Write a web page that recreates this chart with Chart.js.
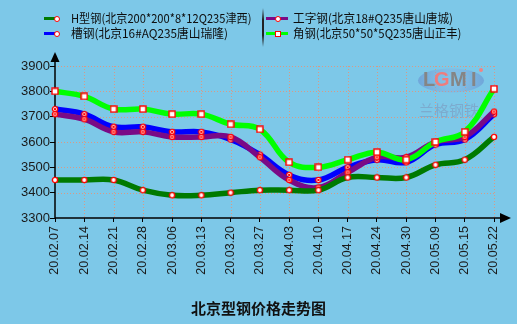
<!DOCTYPE html>
<html>
<head>
<meta charset="utf-8">
<script src="https://cdn.jsdelivr.net/npm/chart.js@4.4.1/dist/chart.umd.min.js"></script>
<style>
  body { margin: 0; background: #7dc8e8; }
  #wrap { position: relative; width: 517px; height: 324px; background: #7dc8e8; overflow: hidden;
          font-family: "Noto Sans CJK SC", "Liberation Sans", sans-serif; }
  #c { position: absolute; left: 0; top: 0; }
  .item { position: absolute; height: 16px; }
  .item .ln { position: absolute; top: 6.5px; height: 3px; }
  .item .mk { position: absolute; top: 5.5px; width: 4px; height: 4px; background: #fff; border: 1px solid #f00; }
  .item .mk.round { border-radius: 50%; }
  .item .tx { position: absolute; top: 0; font-size: 12px; line-height: 16px; color: #0d0d0d;
              white-space: nowrap; transform-origin: 0 50%; }
  #sep { position: absolute; left: 262px; top: 8px; width: 2px; height: 39px;
         background: linear-gradient(#7dc8e8, #222 30%, #222 70%, #7dc8e8); }
  #title { position: absolute; left: 0; width: 517px; top: 298px; text-align: center;
           font-size: 15px; font-weight: bold; color: #111; line-height: 20px; }
</style>
</head>
<body>
<div id="wrap">
  <canvas id="c" width="517" height="324"></canvas>
  <div id="legend"></div>
  <div id="sep"></div>
  <div id="title">北京型钢价格走势图</div>
</div>
<script>
const labels = ['20.02.07', '20.02.14', '20.02.21', '20.02.28', '20.03.06', '20.03.13', '20.03.20', '20.03.27',
                '20.04.03', '20.04.10', '20.04.17', '20.04.24', '20.04.30', '20.05.09', '20.05.15', '20.05.22'];

const hBeam   = [3450, 3450, 3450, 3410, 3390, 3390, 3400, 3410, 3410, 3410, 3460, 3460, 3460, 3510, 3530, 3620];
const iBeam   = [3710, 3690, 3640, 3640, 3620, 3620, 3620, 3540, 3450, 3420, 3480, 3540, 3540, 3600, 3620, 3720];
const channel = [3730, 3710, 3660, 3660, 3640, 3640, 3610, 3550, 3470, 3450, 3500, 3530, 3520, 3590, 3610, 3710];
const angle   = [3800, 3780, 3730, 3730, 3710, 3710, 3670, 3650, 3520, 3500, 3530, 3560, 3530, 3600, 3640, 3810];

const names = {
  h: 'H型钢(北京200*200*8*12Q235津西)',
  i: '工字钢(北京18#Q235唐山唐城)',
  c: '槽钢(北京16#AQ235唐山瑞隆)',
  a: '角钢(北京50*50*5Q235唐山正丰)'
};

const yTicks = [3300, 3400, 3500, 3600, 3700, 3800, 3900];

// little marker images: white fill, red outline
function marker(kind) {
  const cv = document.createElement('canvas');
  cv.width = 8; cv.height = 8;
  const g = cv.getContext('2d');
  g.fillStyle = '#fff';
  g.strokeStyle = '#f00';
  g.lineWidth = 1.4;
  if (kind === 'square') {
    g.fillRect(1, 1, 6, 6);
    g.strokeRect(1, 1, 6, 6);
    return cv;
  }
  g.beginPath();
  g.arc(4, 4, 2.6, 0, Math.PI * 2);
  g.fill();
  g.stroke();
  g.lineWidth = 1;
  g.beginPath();
  if (kind === 'x') {
    g.moveTo(2.8, 2.8); g.lineTo(5.2, 5.2);
    g.moveTo(5.2, 2.8); g.lineTo(2.8, 5.2);
  } else if (kind === 'plus') {
    g.moveTo(4, 2.3); g.lineTo(4, 5.7);
    g.moveTo(2.3, 4); g.lineTo(5.7, 4);
  }
  g.stroke();
  return cv;
}

function series(label, data, color, kind, order) {
  return {
    label, data, order,
    borderColor: color,
    backgroundColor: color,
    borderWidth: 5.5,
    tension: 0.4,
    pointStyle: marker(kind),
    pointRadius: 4
  };
}

// dotted grid, watermark, axes with arrow heads
const decor = {
  id: 'decor',
  beforeDatasetsDraw(chart) {
    const { ctx, chartArea: a, scales } = chart;
    ctx.save();

    ctx.strokeStyle = '#d99a84';
    ctx.lineWidth = 1;
    ctx.setLineDash([1, 2]);
    ctx.beginPath();
    yTicks.slice(1).forEach(v => {
      const y = Math.round(scales.y.getPixelForValue(v)) + 0.5;
      ctx.moveTo(a.left, y); ctx.lineTo(a.right, y);
    });
    labels.forEach((l, i) => {
      if (i === 0) return;
      const x = Math.round(scales.x.getPixelForValue(i)) + 0.5;
      ctx.moveTo(x, a.top); ctx.lineTo(x, a.bottom);
    });
    ctx.stroke();
    ctx.setLineDash([]);

    // watermark
    const rg = ctx.createRadialGradient(451, 80, 4, 451, 80, 33);
    rg.addColorStop(0, 'rgba(150,175,225,0.25)');
    rg.addColorStop(1, 'rgba(95,125,200,0.45)');
    ctx.fillStyle = rg;
    ctx.beginPath();
    ctx.ellipse(451, 80.5, 33, 12, 0, 0, Math.PI * 2);
    ctx.fill();
    ctx.font = 'bold 20px "Liberation Sans"';
    ctx.textBaseline = 'middle';
    ctx.textAlign = 'left';
    [['L', '#858585', 423], ['G', '#f07c7c', 434], ['M', '#858585', 450], ['I', '#858585', 471]].forEach(([t, col, x]) => {
      ctx.fillStyle = col;
      ctx.fillText(t, x, 80);
    });
    ctx.fillStyle = '#f08484';
    ctx.beginPath();
    ctx.arc(481, 70, 2, 0, Math.PI * 2);
    ctx.fill();
    ctx.font = '15px "Noto Sans CJK SC"';
    ctx.fillStyle = 'rgba(125,135,175,0.45)';
    ctx.fillText('兰格钢铁', 419, 110);

    // axes
    const x0 = a.left, y0 = a.bottom;
    ctx.strokeStyle = '#000';
    ctx.lineWidth = 1.5;
    ctx.beginPath();
    ctx.moveTo(x0, y0);
    ctx.lineTo(x0, 60);
    ctx.moveTo(x0, y0);
    ctx.lineTo(502, y0);
    ctx.stroke();
    ctx.fillStyle = '#000';
    ctx.beginPath();
    ctx.moveTo(x0, 52); ctx.lineTo(x0 - 4.5, 62); ctx.lineTo(x0 + 4.5, 62); ctx.closePath();
    ctx.fill();
    ctx.beginPath();
    ctx.moveTo(511, y0); ctx.lineTo(500, y0 - 5); ctx.lineTo(500, y0 + 5); ctx.closePath();
    ctx.fill();
    ctx.restore();
  }
};

const gridStyle = {
  drawOnChartArea: false,
  tickColor: '#000',
  tickWidth: 1
};

new Chart(document.getElementById('c'), {
  type: 'line',
  data: {
    labels,
    datasets: [
      series(names.a, angle, '#00ff00', 'square', 0),
      series(names.h, hBeam, '#007a00', 'circle', 1),
      series(names.i, iBeam, '#7a0a86', 'plus', 2),
      series(names.c, channel, '#0000ff', 'x', 3)
    ]
  },
  options: {
    responsive: false,
    animation: false,
    events: [],
    layout: { padding: { top: 66, right: 23, left: 0, bottom: 0 } },
    plugins: { legend: { display: false }, tooltip: { enabled: false } },
    scales: {
      x: {
        offset: false,
        afterFit(s) { s.height = 106; },
        border: { display: false },
        grid: Object.assign({ tickLength: 4 }, gridStyle),
        ticks: {
          minRotation: 90, maxRotation: 90, padding: 4, autoSkip: false,
          color: '#1a1a1a', font: { family: 'Liberation Sans', size: 12.5 }
        }
      },
      y: {
        min: 3300, max: 3900,
        afterFit(s) { s.width = 55; },
        afterBuildTicks(s) { s.ticks = yTicks.map(v => ({ value: v })); },
        border: { display: false },
        grid: Object.assign({ tickLength: 5 }, gridStyle),
        ticks: {
          padding: 0,
          callback: v => String(v),
          color: '#1a1a1a', font: { family: 'Liberation Sans', size: 13 }
        }
      }
    }
  },
  plugins: [decor]
});

// two-column legend, text squeezed to its column width
const legendItems = [
  { name: names.h, color: '#007a00', kind: 'round', left: 44, top: 10, lineW: 14, mk: 9.5, w: 181 },
  { name: names.c, color: '#0000ff', kind: 'round', left: 44, top: 25, lineW: 14, mk: 9.5, w: 157 },
  { name: names.i, color: '#7a0a86', kind: 'round', left: 266, top: 10, lineW: 22, mk: 8.5, w: 160 },
  { name: names.a, color: '#00ff00', kind: 'sq', left: 266, top: 25, lineW: 22, mk: 8.5, w: 169 }
];
const legend = document.getElementById('legend');
legendItems.forEach(it => {
  const d = document.createElement('div');
  d.className = 'item';
  d.style.left = it.left + 'px';
  d.style.top = it.top + 'px';
  d.innerHTML =
    '<div class="ln" style="left:0;width:' + it.lineW + 'px;background:' + it.color + '"></div>' +
    '<div class="mk ' + (it.kind === 'round' ? 'round' : '') + '" style="left:' + it.mk + 'px"></div>' +
    '<div class="tx" style="left:27px"></div>';
  const tx = d.querySelector('.tx');
  tx.textContent = it.name;
  legend.appendChild(d);
  const k = it.w / tx.offsetWidth;
  if (k < 1) tx.style.transform = 'scaleX(' + k.toFixed(3) + ')';
});
</script>
</body>
</html>
